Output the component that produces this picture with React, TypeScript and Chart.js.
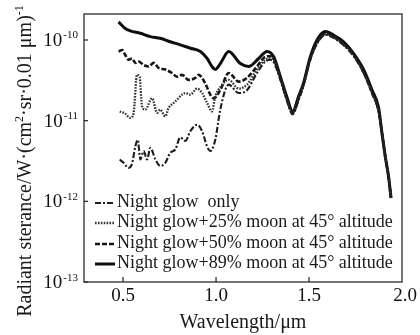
import React, { useEffect, useRef } from 'react';
import { Chart, registerables } from 'chart.js';

Chart.register(...registerables);

// ---- data (wavelength in µm, radiant sterance) ----
const wlNight = [0.482,0.503,0.530,0.548,0.566,0.579,0.593,0.611,0.629,0.647,0.674,0.700,0.727,0.754,0.781,0.808,0.835,0.862,0.898,0.925,0.952,0.969,0.996,1.023,1.068,1.122,1.167,1.220,1.265,1.290,1.310,1.346,1.380,1.412,1.444,1.470,1.507,1.543,1.588,1.632,1.686,1.740,1.794,1.839,1.874,1.892,1.910,1.928,1.941];
const valNight = [3.3e-12,3.0e-12,2.6e-12,2.9e-12,4.8e-12,5.8e-12,3.3e-12,4.2e-12,3.3e-12,4.6e-12,3.3e-12,2.75e-12,3.0e-12,4.0e-12,4.4e-12,6.2e-12,5.6e-12,7.4e-12,8.9e-12,7.4e-12,4.8e-12,4.2e-12,5.8e-12,1.38e-11,2.8e-11,2.2e-11,2.4e-11,3.9e-11,5.4e-11,5.7e-11,5.3e-11,3.2e-11,1.8e-11,1.2e-11,1.8e-11,2.7e-11,5.7e-11,9.0e-11,1.16e-10,1.06e-10,8.6e-11,6.3e-11,3.9e-11,2.2e-11,1.3e-11,7.0e-12,3.6e-12,2.0e-12,1.1e-12];

const wl25 = [0.482,0.512,0.539,0.557,0.575,0.589,0.602,0.620,0.656,0.683,0.700,0.727,0.745,0.772,0.790,0.817,0.835,0.862,0.898,0.925,0.952,0.978,0.996,1.023,1.068,1.122,1.167,1.220,1.265,1.290,1.310,1.346,1.380,1.412,1.444,1.470,1.507,1.543,1.588,1.632,1.686,1.740,1.794,1.839,1.874,1.892,1.910,1.928,1.941];
const val25 = [1.30e-11,1.22e-11,1.08e-11,1.25e-11,3.7e-11,3.5e-11,1.51e-11,1.37e-11,1.9e-11,1.25e-11,1.37e-11,1.13e-11,1.44e-11,1.66e-11,1.82e-11,2.1e-11,2.2e-11,2.1e-11,2.5e-11,2.2e-11,1.66e-11,1.3e-11,2.0e-11,2.6e-11,3.2e-11,2.5e-11,2.8e-11,4.3e-11,5.7e-11,5.9e-11,5.6e-11,3.3e-11,1.85e-11,1.24e-11,1.85e-11,2.75e-11,5.8e-11,9.1e-11,1.18e-10,1.08e-10,8.8e-11,6.4e-11,3.9e-11,2.2e-11,1.3e-11,7.1e-12,3.6e-12,2.0e-12,1.1e-12];

const wl50 = [0.476,0.495,0.512,0.530,0.548,0.566,0.584,0.611,0.638,0.665,0.691,0.727,0.763,0.790,0.817,0.853,0.889,0.906,0.942,0.969,0.987,1.023,1.068,1.122,1.167,1.220,1.265,1.290,1.310,1.346,1.380,1.412,1.444,1.470,1.507,1.543,1.588,1.632,1.686,1.740,1.794,1.839,1.874,1.892,1.910,1.928,1.941];
const val50 = [7.2e-11,7.5e-11,6.5e-11,5.7e-11,5.9e-11,5.2e-11,5.4e-11,4.9e-11,4.7e-11,5.2e-11,4.5e-11,4.3e-11,3.9e-11,3.5e-11,3.7e-11,3.2e-11,3.4e-11,3.7e-11,2.9e-11,2.1e-11,1.9e-11,2.4e-11,3.9e-11,3.05e-11,3.4e-11,4.7e-11,6.2e-11,6.3e-11,5.9e-11,3.4e-11,1.9e-11,1.26e-11,1.9e-11,2.8e-11,5.9e-11,9.3e-11,1.2e-10,1.1e-10,8.9e-11,6.5e-11,4.0e-11,2.2e-11,1.35e-11,7.1e-12,3.6e-12,2.0e-12,1.1e-12];

const wl89 = [0.476,0.512,0.539,0.593,0.647,0.700,0.754,0.808,0.862,0.916,0.952,0.978,0.996,1.023,1.068,1.131,1.175,1.229,1.274,1.310,1.346,1.380,1.412,1.444,1.470,1.507,1.543,1.588,1.632,1.686,1.740,1.794,1.839,1.874,1.892,1.910,1.928,1.941];
const val89 = [1.68e-10,1.39e-10,1.30e-10,1.21e-10,1.10e-10,1.05e-10,9.5e-11,8.7e-11,7.9e-11,7.2e-11,5.9e-11,4.7e-11,4.3e-11,5.1e-11,7.2e-11,5.1e-11,4.7e-11,5.9e-11,7.2e-11,6.2e-11,3.5e-11,2.0e-11,1.3e-11,2.0e-11,2.9e-11,6.2e-11,1.0e-10,1.27e-10,1.15e-10,9.5e-11,6.8e-11,4.3e-11,2.4e-11,1.45e-11,7.1e-12,3.6e-12,2.0e-12,1.1e-12];

const seriesLabels = [
  'Night glow  only',
  'Night glow+25% moon at 45° altitude',
  'Night glow+50% moon at 45° altitude',
  'Night glow+89% moon at 45° altitude',
];

const xTicks = [0.5, 1.0, 1.5, 2.0];
const yTickExps = [-13, -12, -11, -10];

const xTitle = 'Wavelength/μm';
const yTitleParts: [string, boolean][] = [
  ['Radiant sterance/W·(cm', false],
  ['2', true],
  ['·sr·0.01 μm)', false],
  ['-1', true],
];

// ---- styles ----
const FONT = '"Liberation Serif", "Times New Roman", serif';
const styles = [
  { color: '#1e1e1e', width: 2.1, dash: [6, 2, 2, 2] },
  { color: '#333333', width: 2.3, dash: [1.6, 1.3] },
  { color: '#161616', width: 2.6, dash: [5, 2] },
  { color: '#0e0e0e', width: 3.0, dash: [] as number[] },
];

const toPts = (xs: number[], ys: number[]) => xs.map((x, i) => ({ x, y: ys[i] }));

const decorPlugin = {
  id: 'decor',
  afterDraw(chart: any) {
    const { ctx, chartArea: a, scales } = chart;
    const xs = scales.x;
    const ys = scales.y;
    ctx.save();

    // frame
    ctx.strokeStyle = '#4a4a4a';
    ctx.lineWidth = 1.5;
    ctx.setLineDash([]);
    ctx.strokeRect(a.left, a.top, a.right - a.left, a.bottom - a.top);

    // x ticks + labels
    ctx.strokeStyle = '#222';
    ctx.lineWidth = 1.2;
    ctx.fillStyle = '#111';
    ctx.font = `19px ${FONT}`;
    ctx.textAlign = 'center';
    ctx.textBaseline = 'middle';
    xTicks.forEach((v) => {
      const px = xs.getPixelForValue(v);
      if (px < a.right - 2) {
        ctx.beginPath();
        ctx.moveTo(px, a.bottom);
        ctx.lineTo(px, a.bottom - 5);
        ctx.stroke();
      }
      ctx.fillText(v.toFixed(1), px + (px > a.right - 2 ? 3 : 0), a.bottom + 14);
    });

    // y ticks + labels (10^n)
    yTickExps.forEach((e) => {
      const py = ys.getPixelForValue(Math.pow(10, e));
      ctx.beginPath();
      ctx.moveTo(a.left, py);
      ctx.lineTo(a.left + 4, py);
      ctx.stroke();
      const sup = String(e);
      ctx.font = `11px ${FONT}`;
      const sw = ctx.measureText(sup).width;
      const supRight = a.left - 6;
      ctx.textAlign = 'left';
      ctx.textBaseline = 'alphabetic';
      ctx.fillText(sup, supRight - sw, py - 1.5);
      ctx.font = `19px ${FONT}`;
      ctx.textAlign = 'right';
      ctx.fillText('10', supRight - sw - 1, py + 6);
    });

    // x title
    ctx.font = `20px ${FONT}`;
    ctx.textAlign = 'center';
    ctx.textBaseline = 'middle';
    ctx.fillStyle = '#1a1a1a';
    ctx.fillText(xTitle, (a.left + a.right) / 2, 323);

    // y title (rotated, with superscripts)
    ctx.save();
    ctx.translate(24, 161);
    ctx.rotate(-Math.PI / 2);
    const mainF = `20px ${FONT}`;
    const supF = `12px ${FONT}`;
    let total = 0;
    yTitleParts.forEach(([t, s]) => {
      ctx.font = s ? supF : mainF;
      total += ctx.measureText(t).width;
    });
    let cx = -total / 2;
    ctx.textAlign = 'left';
    ctx.textBaseline = 'alphabetic';
    yTitleParts.forEach(([t, s]) => {
      ctx.font = s ? supF : mainF;
      ctx.fillText(t, cx, s ? -1 : 7);
      cx += ctx.measureText(t).width;
    });
    ctx.restore();

    // legend
    const rowsY = [202, 222, 243, 263];
    ctx.font = `18px ${FONT}`;
    ctx.textAlign = 'left';
    ctx.textBaseline = 'middle';
    seriesLabels.forEach((lab, i) => {
      const st = styles[i];
      const y = rowsY[i];
      ctx.strokeStyle = st.color;
      ctx.lineWidth = st.width;
      ctx.setLineDash(st.dash);
      ctx.beginPath();
      ctx.moveTo(95, y + 1);
      ctx.lineTo(115, y + 1);
      ctx.stroke();
      ctx.setLineDash([]);
      ctx.fillStyle = '#1a1a1a';
      ctx.fillText(lab, 117, y);
    });

    ctx.restore();
  },
};

export default function App() {
  const ref = useRef<HTMLCanvasElement | null>(null);

  useEffect(() => {
    document.body.style.margin = '0';
    const canvas = ref.current;
    if (!canvas) return;
    const sets = [
      toPts(wlNight, valNight),
      toPts(wl25, val25),
      toPts(wl50, val50),
      toPts(wl89, val89),
    ];
    const chart = new Chart(canvas, {
      type: 'line',
      data: {
        datasets: sets.map((d, i) => ({
          label: seriesLabels[i],
          data: d,
          borderColor: styles[i].color,
          borderWidth: styles[i].width,
          borderDash: styles[i].dash,
          pointRadius: 0,
          fill: false,
          cubicInterpolationMode: 'monotone' as const,
        })),
      },
      options: {
        responsive: false,
        animation: false,
        layout: { padding: { left: 84, top: 14, right: 18, bottom: 53 } },
        plugins: { legend: { display: false }, tooltip: { enabled: false } },
        scales: {
          x: { type: 'linear', min: 0.29, max: 2.0, display: false },
          y: { type: 'logarithmic', min: 1e-13, max: 2.1e-10, display: false },
        },
      },
      plugins: [decorPlugin],
    });
    return () => chart.destroy();
  }, []);

  return (
    <div style={{ width: 420, height: 335, background: '#fff' }}>
      <canvas ref={ref} width={420} height={335} style={{ display: 'block' }} />
    </div>
  );
}
